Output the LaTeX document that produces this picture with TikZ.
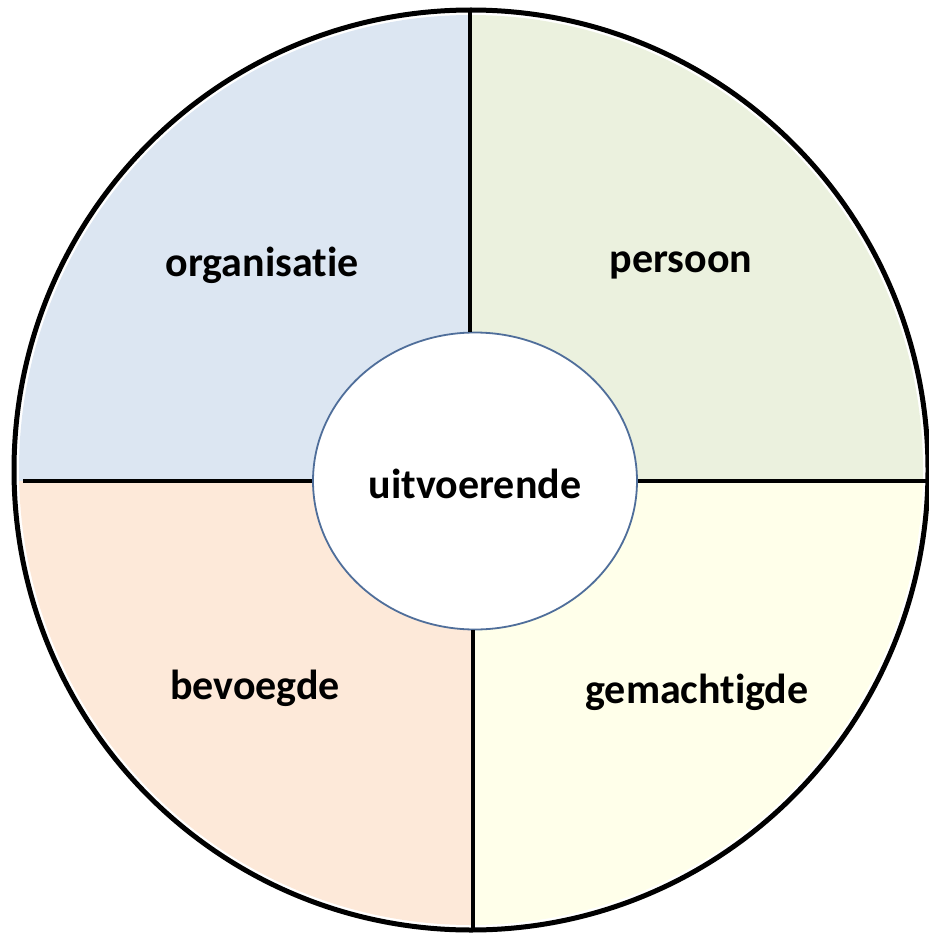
\documentclass[tikz,border=0pt]{standalone}
\usepackage{fontspec}
\setmainfont{Carlito}[Ligatures={NoCommon}]
\usetikzlibrary{shapes.geometric}
\begin{document}
\begin{tikzpicture}[x=1pt,y=-1pt,
  lbl/.style={font=\fontsize{42}{50}\selectfont\bfseries, text=black},
  divider/.style={line width=3.5pt, black},
  outerring/.style={line width=5pt, black},
  hub/.style={ellipse, draw=hubblue, line width=1.8pt, fill=white, minimum width=324pt, minimum height=297pt, inner sep=0pt}]
\definecolor{qblue}{HTML}{DCE6F2}
\definecolor{qgreen}{HTML}{EBF1DE}
\definecolor{qpeach}{HTML}{FDE9D9}
\definecolor{qyellow}{HTML}{FFFFEA}
\definecolor{hubblue}{HTML}{4F6E9A}
\useasboundingbox (0,0) rectangle (928,933);
% quadrant fills
\begin{scope}
  \clip (471,470) ellipse [x radius=452, y radius=455];
  \fill[qblue] (0,0) rectangle (471,481);
  \fill[qgreen] (471,0) rectangle (940,481);
  \fill[qpeach] (0,481) rectangle (471,940);
  \fill[qyellow] (471,481) rectangle (940,940);
\end{scope}
% hub
\node[hub] (hub) at (475,481) {};
\coordinate (lt) at (23,481);
\coordinate (rt) at (928,481);
\coordinate (tp) at (470,12);
\coordinate (bt) at (473,928);
\draw[divider] (lt) -- (hub.west);
\draw[divider] (hub.east) -- (rt);
\draw[divider] (tp) -- (hub.north -| tp);
\draw[divider] (hub.south -| bt) -- (bt);
\draw[outerring] (471,470) ellipse [x radius=457, y radius=460];
% labels
\node[lbl] (uitv) at (475,484) {uitvoerende};
\node[lbl] (org) at (262,265) {organisatie};
\node[lbl] (pers) at (681,265) {persoon};
\node[lbl] (bev) at (255,688) {bevoegde};
\node[lbl] (gem) at (697,692) {gemachtigde};
\end{tikzpicture}
\end{document}
